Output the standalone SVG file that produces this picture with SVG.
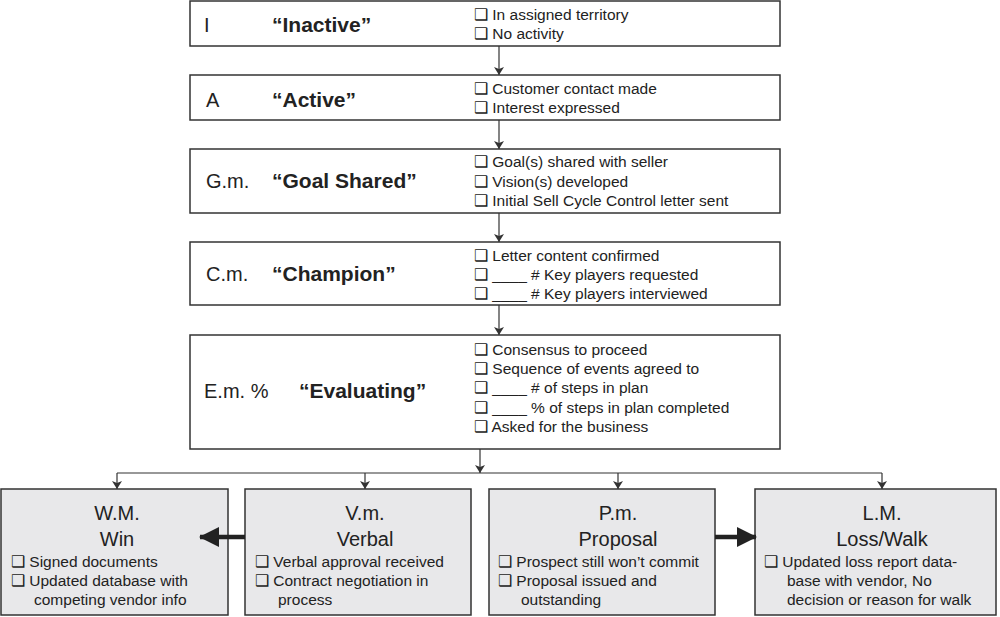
<svg xmlns="http://www.w3.org/2000/svg" width="1000" height="617" viewBox="0 0 1000 617">
<defs>
<marker id="ah" markerWidth="8" markerHeight="10" refX="8" refY="5" orient="auto" markerUnits="userSpaceOnUse"><path d="M0,0 L8,5 L0,10 L2,5z" fill="#333"/></marker>
<marker id="big" markerWidth="20" markerHeight="20" refX="19" refY="10" orient="auto" markerUnits="userSpaceOnUse"><path d="M0,0 L20,10 L0,20z" fill="#222"/></marker>
</defs>
<style>
text{font-family:"Liberation Sans",Arial,sans-serif;fill:#222}
.box{fill:#fff;stroke:#333;stroke-width:1.5}
.gbox{fill:#e8e8ea;stroke:#333;stroke-width:1.5}
.lab{font-size:20px}
.ttl{font-size:21px;font-weight:bold}
.it{font-size:15.5px}
.h{font-size:20px;text-anchor:middle}
.c{fill:none;stroke:#333;stroke-width:1.2}
.t{fill:none;stroke:#222;stroke-width:4.5}
</style>
<rect width="1000" height="617" fill="#fff"/>
<g id="inactive">
<rect class="box" x="190" y="1" width="590" height="45"/>
<text class="lab" x="204" y="32">I</text>
<text class="ttl" x="272" y="32">“Inactive”</text>
<text class="it" x="474" y="20">❑ In assigned territory</text>
<text class="it" x="474" y="39">❑ No activity</text>
</g>
<g id="active">
<rect class="box" x="190" y="75" width="590" height="45"/>
<text class="lab" x="206" y="107">A</text>
<text class="ttl" x="272" y="107">“Active”</text>
<text class="it" x="474" y="94">❑ Customer contact made</text>
<text class="it" x="474" y="113">❑ Interest expressed</text>
</g>
<g id="goal">
<rect class="box" x="190" y="149" width="590" height="64"/>
<text class="lab" x="206" y="188">G.m.</text>
<text class="ttl" x="272" y="188">“Goal Shared”</text>
<text class="it" x="474" y="167">❑ Goal(s) shared with seller</text>
<text class="it" x="474" y="187">❑ Vision(s) developed</text>
<text class="it" x="474" y="206">❑ Initial Sell Cycle Control letter sent</text>
</g>
<g id="champion">
<rect class="box" x="190" y="242" width="590" height="63"/>
<text class="lab" x="206" y="281">C.m.</text>
<text class="ttl" x="272" y="281">“Champion”</text>
<text class="it" x="474" y="261">❑ Letter content confirmed</text>
<text class="it" x="474" y="280">❑ ____ # Key players requested</text>
<text class="it" x="474" y="299">❑ ____ # Key players interviewed</text>
</g>
<g id="evaluating">
<rect class="box" x="190" y="335" width="590" height="114"/>
<text class="lab" x="204" y="398">E.m. %</text>
<text class="ttl" x="299" y="398">“Evaluating”</text>
<text class="it" x="474" y="355">❑ Consensus to proceed</text>
<text class="it" x="474" y="374">❑ Sequence of events agreed to</text>
<text class="it" x="474" y="393">❑ ____ # of steps in plan</text>
<text class="it" x="474" y="413">❑ ____ % of steps in plan completed</text>
<text class="it" x="474" y="432">❑ Asked for the business</text>
</g>
<g id="win">
<rect class="gbox" x="1" y="489" width="227" height="126"/>
<text class="h" x="117" y="520">W.M.</text>
<text class="h" x="117" y="546">Win</text>
<text class="it" x="11" y="567">❑ Signed documents</text>
<text class="it" x="11" y="586">❑ Updated database with</text>
<text class="it" x="34" y="605">competing vendor info</text>
</g>
<g id="verbal">
<rect class="gbox" x="245" y="489" width="226" height="126"/>
<text class="h" x="365" y="520">V.m.</text>
<text class="h" x="365" y="546">Verbal</text>
<text class="it" x="255" y="567">❑ Verbal approval received</text>
<text class="it" x="255" y="586">❑ Contract negotiation in</text>
<text class="it" x="278" y="605">process</text>
</g>
<g id="proposal">
<rect class="gbox" x="489" y="489" width="226" height="126"/>
<text class="h" x="618" y="520">P.m.</text>
<text class="h" x="618" y="546">Proposal</text>
<text class="it" x="498" y="567">❑ Prospect still won’t commit</text>
<text class="it" x="498" y="586">❑ Proposal issued and</text>
<text class="it" x="521" y="605">outstanding</text>
</g>
<g id="loss">
<rect class="gbox" x="755" y="489" width="241" height="126"/>
<text class="h" x="882" y="520">L.M.</text>
<text class="h" x="882" y="546">Loss/Walk</text>
<text class="it" x="764" y="567">❑ Updated loss report data-</text>
<text class="it" x="787" y="586">base with vendor, No</text>
<text class="it" x="787" y="605">decision or reason for walk</text>
</g>
<g id="connectors">
<line class="c" x1="499" y1="46" x2="499" y2="75" marker-end="url(#ah)"/>
<line class="c" x1="499" y1="120" x2="499" y2="149" marker-end="url(#ah)"/>
<line class="c" x1="499" y1="213" x2="499" y2="242" marker-end="url(#ah)"/>
<line class="c" x1="499" y1="305" x2="499" y2="335" marker-end="url(#ah)"/>
<line class="c" x1="480" y1="449" x2="480" y2="473" marker-end="url(#ah)"/>
<line class="c" x1="117" y1="473" x2="882" y2="473"/>
<line class="c" x1="117" y1="473" x2="117" y2="489" marker-end="url(#ah)"/>
<line class="c" x1="882" y1="473" x2="882" y2="489" marker-end="url(#ah)"/>
<line class="c" x1="365" y1="473" x2="365" y2="489" marker-end="url(#ah)"/>
<line class="c" x1="618" y1="473" x2="618" y2="489" marker-end="url(#ah)"/>
<line class="t" x1="245" y1="537" x2="200" y2="537" marker-end="url(#big)"/>
<line class="t" x1="715" y1="537" x2="756" y2="537" marker-end="url(#big)"/>
</g>
</svg>
